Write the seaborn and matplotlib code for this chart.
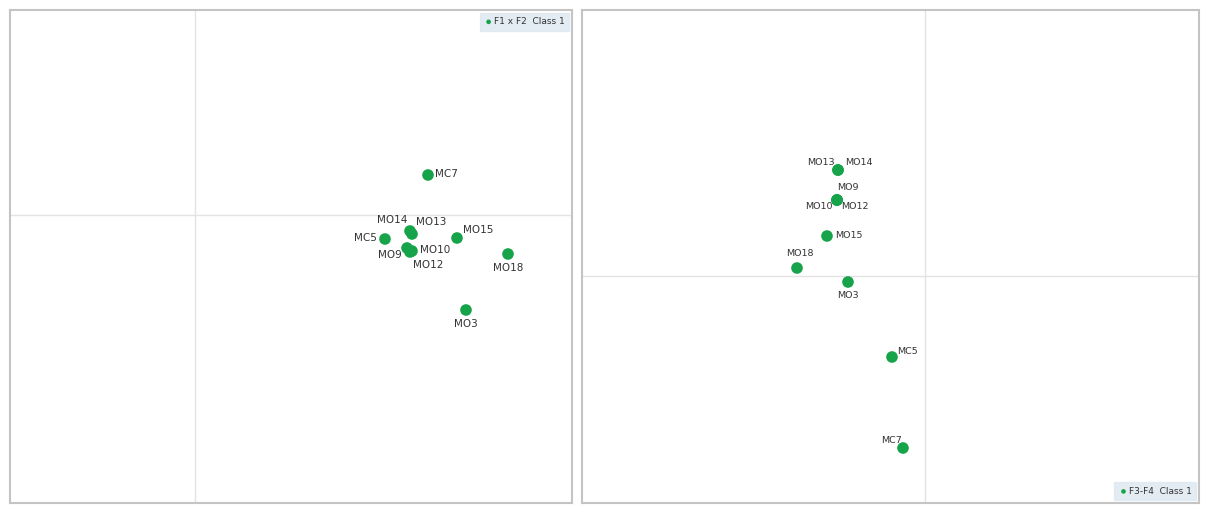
import pandas as pd
import seaborn as sns
import matplotlib.pyplot as plt

labels = ['MC7', 'MO14', 'MO13', 'MC5', 'MO15', 'MO9', 'MO10', 'MO12', 'MO18', 'MO3']
f1 = [2.33, 2.15, 2.17, 1.90, 2.62, 2.12, 2.17, 2.15, 3.13, 2.71]
f2 = [0.40, -0.16, -0.19, -0.24, -0.23, -0.33, -0.36, -0.37, -0.39, -0.95]

labels_34 = ['MO13', 'MO14', 'MO9', 'MO10', 'MO12', 'MO15', 'MO18', 'MO3', 'MC5', 'MC7']
f3 = [-0.87, -0.87, -0.88, -0.88, -0.88, -0.98, -1.28, -0.77, -0.33, -0.22]
f4 = [1.06, 1.06, 0.76, 0.76, 0.76, 0.40, 0.08, -0.06, -0.81, -1.72]

# label offsets in points (dx, dy, ha)
offs_12 = {'MC7': (5, -3, 'left'), 'MO14': (-2, 4, 'right'), 'MO13': (3, 5, 'left'),
           'MC5': (-6, -3, 'right'), 'MO15': (4, 2, 'left'), 'MO9': (-4, -9, 'right'),
           'MO10': (6, -3, 'left'), 'MO12': (2, -13, 'left'), 'MO18': (0, -14, 'center'),
           'MO3': (0, -14, 'center')}
offs_34 = {'MO13': (-2, 2, 'right'), 'MO14': (5, 2, 'left'), 'MO9': (0, 6, 'left'),
           'MO10': (-3, -8, 'right'), 'MO12': (3, -8, 'left'), 'MO15': (6, -3, 'left'),
           'MO18': (-8, 7, 'left'), 'MO3': (0, -13, 'center'), 'MC5': (4, 1, 'left'),
           'MC7': (-16, 2, 'left')}

green = '#17a34a'
txt = '#333333'

df12 = pd.DataFrame({'x': f1, 'y': f2, 'label': labels})
df34 = pd.DataFrame({'x': f3, 'y': f4, 'label': labels_34})

sns.set_style('white')
fig = plt.figure(figsize=(12.09, 5.13), dpi=100)
ax1 = fig.add_axes([10 / 1209, 10 / 513, 562 / 1209, 493 / 513])
ax2 = fig.add_axes([582 / 1209, 10 / 513, 617 / 1209, 493 / 513])


def draw(ax, d, offs, xlim, ylim, leg_text, leg_loc, fs):
    ax.axhline(0, color='#e3e3e3', lw=1, zorder=0)
    ax.axvline(0, color='#e3e3e3', lw=1, zorder=0)
    sns.scatterplot(data=d, x='x', y='y', ax=ax, color=green, s=70,
                    edgecolor='none', label=leg_text, zorder=3)
    for _, r in d.iterrows():
        dx, dy, ha = offs[r['label']]
        ax.annotate(r['label'], (r['x'], r['y']), xytext=(dx, dy),
                    textcoords='offset points', ha=ha, va='bottom',
                    fontsize=fs, color=txt)
    ax.set_xlim(*xlim)
    ax.set_ylim(*ylim)
    ax.set_xticks([])
    ax.set_yticks([])
    ax.set_xlabel('')
    ax.set_ylabel('')
    for sp in ax.spines.values():
        sp.set_color('#c4c4c4')
        sp.set_linewidth(1.5)
    leg = ax.legend(loc=leg_loc, fontsize=6.5, markerscale=0.4, handletextpad=0.1,
                    borderaxespad=0.3, frameon=True, fancybox=False,
                    borderpad=0.5, handlelength=1.0)
    leg.get_frame().set_facecolor('#dde6f0')
    leg.get_frame().set_edgecolor('#dde6f0')
    for t in leg.get_texts():
        t.set_color(txt)


draw(ax1, df12, offs_12, (-1.85, 3.77), (-2.88, 2.05), 'F1 x F2  Class 1', 'upper right', 7.5)
draw(ax2, df34, offs_34, (-3.43, 2.74), (-2.27, 2.66), 'F3-F4  Class 1', 'lower right', 6.8)

fig.savefig('out.png', dpi=100)
